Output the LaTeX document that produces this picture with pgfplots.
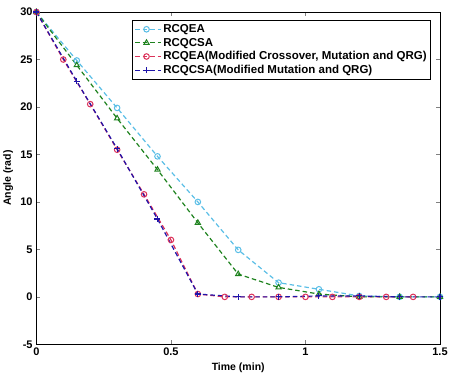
\documentclass[border=0pt]{standalone}
\usepackage{pgfplots}
\pgfplotsset{compat=1.18}
\usepackage{fontspec}
\setmainfont{Liberation Sans}
\definecolor{c1}{RGB}{90,190,230}
\definecolor{c2}{RGB}{30,130,30}
\definecolor{c3}{RGB}{220,50,90}
\definecolor{c4}{RGB}{30,20,170}
\begin{document}
\begin{tikzpicture}
\begin{axis}[
  scale only axis, width=402bp, height=331bp,
  xmin=0, xmax=1.5, ymin=-5, ymax=30,
  xtick={0,0.5,1,1.5}, ytick={-5,0,5,10,15,20,25,30},
  xticklabels={0,0.5,1,1.5},
  tick align=inside, tick pos=both,
  major tick length=4bp,
  tick label style={font=\fontsize{11}{12}\selectfont\bfseries},
  /pgf/number format/assume math mode=true,
  xlabel={Time (min)}, ylabel={Angle (rad)},
  label style={font=\fontsize{10.5}{12}\selectfont\bfseries},
  every axis/.append style={line width=1pt},
  legend style={at={(0.978,0.976)}, anchor=north east, draw=black, line width=1pt,
    font=\fontsize{11.5}{14}\selectfont\bfseries, row sep=0pt, inner sep=2pt},
  legend cell align=left,
  legend image code/.code={\draw (0cm,0cm) -- (0.9cm,0cm); \draw[solid] plot coordinates {(0.4cm,0cm)};},
  every axis plot/.append style={line width=1.2pt, dash pattern=on 4.5pt off 3pt},
]
\addplot[c1, mark=o, mark size=2.8pt, mark options={solid, line width=1pt}] coordinates {
(0,30) (0.15,24.9) (0.3,19.9) (0.45,14.8) (0.6,10) (0.75,4.95) (0.9,1.5) (1.05,0.8) (1.2,0.1) (1.35,0) (1.5,0)};
\addlegendentry{RCQEA}
\addplot[c2, mark=triangle, mark size=3pt, mark options={solid, line width=1pt}] coordinates {
(0,30) (0.15,24.4) (0.3,18.8) (0.45,13.4) (0.6,7.8) (0.75,2.4) (0.9,1.0) (1.05,0.3) (1.2,0) (1.35,0) (1.5,0)};
\addlegendentry{RCQCSA}
\addplot[c3, mark=o, mark size=2.8pt, mark options={solid, line width=1pt}] coordinates {
(0,30) (0.1,25) (0.2,20.3) (0.3,15.5) (0.4,10.8) (0.5,6) (0.6,0.3) (0.7,0) (0.8,0) (0.9,0) (1.0,0) (1.1,0) (1.2,0) (1.3,0) (1.4,0)};
\addlegendentry{RCQEA(Modified Crossover, Mutation and QRG)}
\addplot[c4, mark=+, mark size=3pt, mark options={solid, line width=1.1pt}] coordinates {
(0,30) (0.15,22.7) (0.3,15.6) (0.45,8.2) (0.6,0.3) (0.75,0) (0.9,0) (1.05,0.1) (1.2,0.1) (1.35,0) (1.5,0)};
\addlegendentry{RCQCSA(Modified Mutation and QRG)}
\end{axis}
\path ([yshift=12bp]current axis.north);
\end{tikzpicture}
\end{document}
